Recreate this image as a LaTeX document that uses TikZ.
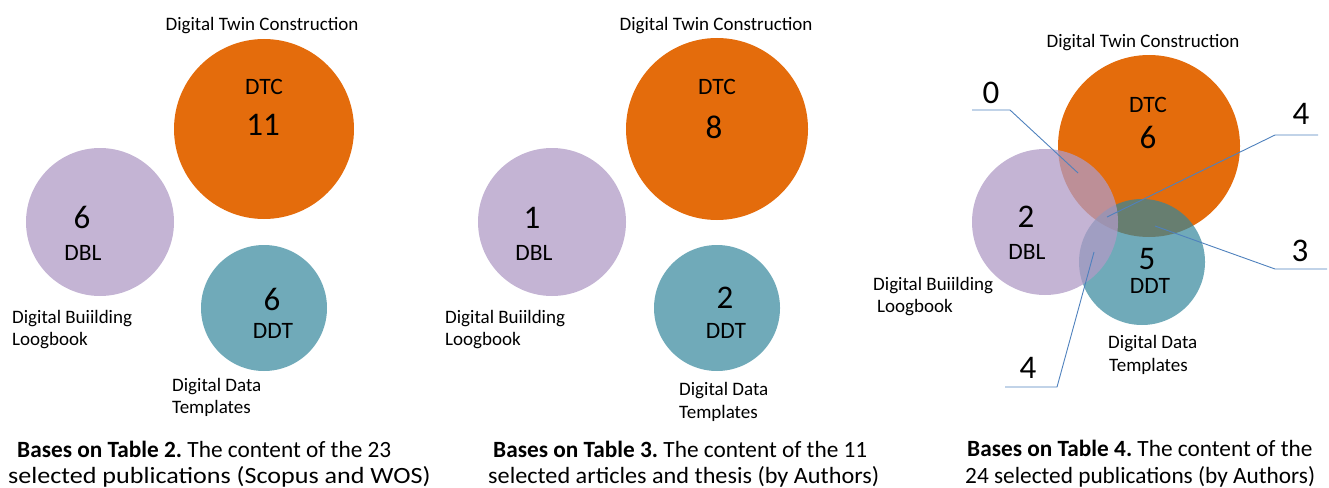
\documentclass[tikz,border=0pt]{standalone}
\usepackage{fontspec}
\setmainfont{Carlito}
\frenchspacing
\definecolor{dtc}{RGB}{228,108,12}
\definecolor{dbl}{RGB}{196,180,212}
\definecolor{ddt}{RGB}{112,170,185}
\definecolor{dblb}{RGB}{176,155,198}
\definecolor{ddtb}{RGB}{51,134,155}
\definecolor{lead}{RGB}{79,129,189}
\begin{document}
\begin{tikzpicture}[x=1pt,y=-1pt,
  blob/.style={circle, inner sep=0pt, draw=none},
  lab/.style={font=\fontsize{19}{23}\selectfont, inner sep=0pt},
  abbr/.style={font=\fontsize{23.5}{27}\selectfont, inner sep=0pt, anchor=base},
  num/.style={font=\fontsize{33}{36}\selectfont, inner sep=0pt, anchor=base},
  capt/.style={font=\fontsize{23.3}{27}\selectfont, inner sep=0pt, anchor=base west},
  leader/.style={draw=lead, line width=0.9pt}]
\useasboundingbox (0,0) rectangle (1329,487);

% ---------- Panel 1 ----------
\node[blob, fill=dtc, minimum size=180pt] (a1) at (264,129) {};
\node[blob, fill=dbl, minimum size=148pt] (b1) at (100,222) {};
\node[blob, fill=ddt, minimum size=126pt] (d1) at (264,308) {};
\node[lab, anchor=base] (a1t) at (262,31) {Digital Twin Construction};
\node[abbr] (a1a) at (264,94) {DTC};
\node[num] (a1n) at (263,135) {11};
\node[num] (b1n) at (82,228) {6};
\node[abbr] (b1a) at (83,260) {DBL};
\node[num] (d1n) at (272,310) {6};
\node[abbr] (d1a) at (273,338) {DDT};
\node[lab, anchor=base west] (b1l1) at (12,323) {Digital Buiilding};
\node[lab, anchor=base west] (b1l2) at (12,345) {Loogbook};
\node[lab, anchor=base west] (d1l1) at (172,391) {Digital Data};
\node[lab, anchor=base west] (d1l2) at (172,413) {Templates};
\node[capt] (c1a) at (17,457) {\textbf{Bases on Table 2.} The content of the 23};
\node[capt] (c1b) at (8,483) {\scalebox{1.12}[1]{selected publications (Scopus and WOS)}};

% ---------- Panel 2 ----------
\node[blob, fill=dtc, minimum size=182pt] (a2) at (717,129) {};
\node[blob, fill=dbl, minimum size=148pt] (b2) at (552,222) {};
\node[blob, fill=ddt, minimum size=126pt] (d2) at (717,308) {};
\node[lab, anchor=base] (a2t) at (716,31) {Digital Twin Construction};
\node[abbr] (a2a) at (717,94) {DTC};
\node[num] (a2n) at (714,138) {8};
\node[num] (b2n) at (532,228) {1};
\node[abbr] (b2a) at (534,260) {DBL};
\node[num] (d2n) at (725,308) {2};
\node[abbr] (d2a) at (726,338) {DDT};
\node[lab, anchor=base west] (b2l1) at (445,323) {Digital Buiilding};
\node[lab, anchor=base west] (b2l2) at (445,345) {Loogbook};
\node[lab, anchor=base west] (d2l1) at (679,395) {Digital Data};
\node[lab, anchor=base west] (d2l2) at (679,418) {Templates};
\node[capt] (c2a) at (493,457) {\textbf{Bases on Table 3.} The content of the 11};
\node[capt] (c2b) at (488,483) {\scalebox{1.04}[1]{selected articles and thesis (by Authors)}};

% ---------- Panel 3 ----------
\node[blob, fill=dtc, minimum size=182pt] (a3) at (1149,146) {};
\node[blob, fill=ddtb, fill opacity=0.7, minimum size=126pt] (d3) at (1142,262) {};
\node[blob, fill=dblb, fill opacity=0.75, minimum size=146pt] (b3) at (1045,222) {};
\node[lab, anchor=base] (a3t) at (1143,48) {Digital Twin Construction};
\node[abbr] (a3a) at (1148,112) {DTC};
\node[num] (a3n) at (1148,148) {6};
\node[num] (b3n) at (1026,227) {2};
\node[abbr] (b3a) at (1027,259) {DBL};
\node[num] (d3n) at (1147,269) {5};
\node[abbr] (d3a) at (1150,293) {DDT};
\node[lab, anchor=base west] (b3l1) at (873,290) {Digital Buiilding};
\node[lab, anchor=base west] (b3l2) at (877,312) {Loogbook};
\node[lab, anchor=base west] (d3l1) at (1108,348) {Digital Data};
\node[lab, anchor=base west] (d3l2) at (1109,371) {Templates};
\node[capt] (c3a) at (967,456) {\textbf{Bases on Table 4.} The content of the};
\node[capt] (c3b) at (965,483) {24 selected publications (by Authors)};

% overlap labels and leaders
\node[num] (n0) at (991,103) {0};
\node[num] (n4a) at (1301,124) {4};
\node[num] (n3) at (1300,261) {3};
\node[num] (n4b) at (1028,378) {4};
\coordinate (p0s) at (972,110);  \coordinate (p0e) at (1010,110);  \coordinate (p0t) at (1078,173);
\coordinate (p4s) at (1318,135); \coordinate (p4e) at (1275,135); \coordinate (p4t) at (1107,217);
\coordinate (p3s) at (1327,269); \coordinate (p3e) at (1275,269); \coordinate (p3t) at (1155,226);
\coordinate (q4s) at (1005,387); \coordinate (q4e) at (1057,387); \coordinate (q4t) at (1094,252);
\draw[leader] (p0s) -- (p0e) -- (p0t);
\draw[leader] (p4s) -- (p4e) -- (p4t);
\draw[leader] (p3s) -- (p3e) -- (p3t);
\draw[leader] (q4s) -- (q4e) -- (q4t);
\end{tikzpicture}
\end{document}
